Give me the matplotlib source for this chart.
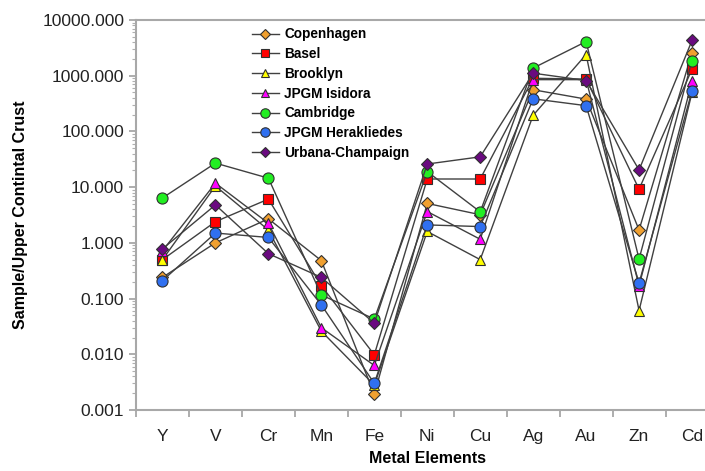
import matplotlib.pyplot as plt
import matplotlib.ticker as mticker
import numpy as np

plt.rcParams['font.family'] = ['Liberation Sans', 'DejaVu Sans']

elements = ['Y', 'V', 'Cr', 'Mn', 'Fe', 'Ni', 'Cu', 'Ag', 'Au', 'Zn', 'Cd']

copenhagen = [0.24, 1.0, 2.7, 0.48, 0.0019, 5.1, 3.2, 560, 380, 1.7, 2600]
basel = [0.50, 2.4, 6.1, 0.17, 0.0098, 14.0, 14.0, 900, 870, 9.2, 1310]
brooklyn = [0.50, 10.5, 1.7, 0.026, 0.0028, 1.6, 0.50, 195, 2400, 0.061, 500]
isidora = [0.72, 11.8, 2.25, 0.030, 0.0063, 3.65, 1.16, 850, 850, 0.17, 790]
cambridge = [6.4, 27, 14.5, 0.116, 0.043, 19, 3.6, 1370, 4100, 0.51, 1870]
herakliedes = [0.21, 1.5, 1.25, 0.077, 0.0030, 2.1, 1.96, 385, 290, 0.19, 535]
urbana = [0.78, 4.8, 0.64, 0.24, 0.036, 26, 35, 1110, 820, 20.4, 4300]

series = [
    ('Copenhagen', copenhagen, 'D', '#f0a030', 6.2),
    ('Basel', basel, 's', '#ff0000', 7.5),
    ('Brooklyn', brooklyn, '^', '#ffff00', 7.5),
    ('JPGM Isidora', isidora, '^', '#ff00ff', 7.5),
    ('Cambridge', cambridge, 'o', '#22ee22', 8),
    ('JPGM Herakliedes', herakliedes, 'o', '#3070f0', 8),
    ('Urbana-Champaign', urbana, 'D', '#6a0a80', 6.2),
]

fig = plt.figure(figsize=(7.05, 4.71), dpi=100)
ax = fig.add_axes([136 / 705, 61 / 471, 582.5 / 705, 390 / 471])

x = np.arange(len(elements))
for name, vals, marker, color, ms in series:
    ax.plot(x, vals, marker=marker, color='#404040', linewidth=1.0,
            markerfacecolor=color, markeredgecolor='#303030',
            markeredgewidth=0.8, markersize=ms, label=name)

ax.set_yscale('log')
ax.set_ylim(0.001, 10000)
ax.set_xlim(-0.5, len(elements) - 0.5)
ax.yaxis.set_major_formatter(mticker.FormatStrFormatter('%.3f'))
ax.yaxis.set_minor_formatter(mticker.NullFormatter())

ax.set_xticks(x)
ax.set_xticklabels(elements)
ax.set_xticks(np.arange(-0.5, len(elements), 1.0), minor=True)
ax.tick_params(axis='x', which='major', length=0, pad=14, labelsize=12.5)
ax.tick_params(axis='x', which='minor', length=5, color='#a0a0a0', width=1.2)
ax.tick_params(axis='y', which='major', length=5, color='#a0a0a0', width=1.2,
               labelsize=12.5)
ax.tick_params(axis='y', which='minor', length=3, color='#b0b0b0', width=0.8)
for tl in ax.get_xticklabels() + ax.get_yticklabels():
    tl.set_color('#222222')

for side in ['left', 'bottom', 'top', 'right']:
    ax.spines[side].set_color('#a8a8a8')
    ax.spines[side].set_linewidth(1.5)

ax.set_xlabel('Metal Elements', fontsize=11.5, fontweight='bold', labelpad=5)
ax.set_ylabel('Sample/Upper Contintal Crust', fontsize=11.5, fontweight='bold', labelpad=10)

leg = ax.legend(loc='upper left', bbox_to_anchor=(0.186, 1.0), frameon=False,
                prop={'weight': 'bold', 'size': 9.8}, handlelength=2.0,
                handletextpad=0.4, labelspacing=0.42, borderaxespad=0.15,
                markerscale=0.85)

fig.savefig('out.png', dpi=100)
plt.close(fig)
